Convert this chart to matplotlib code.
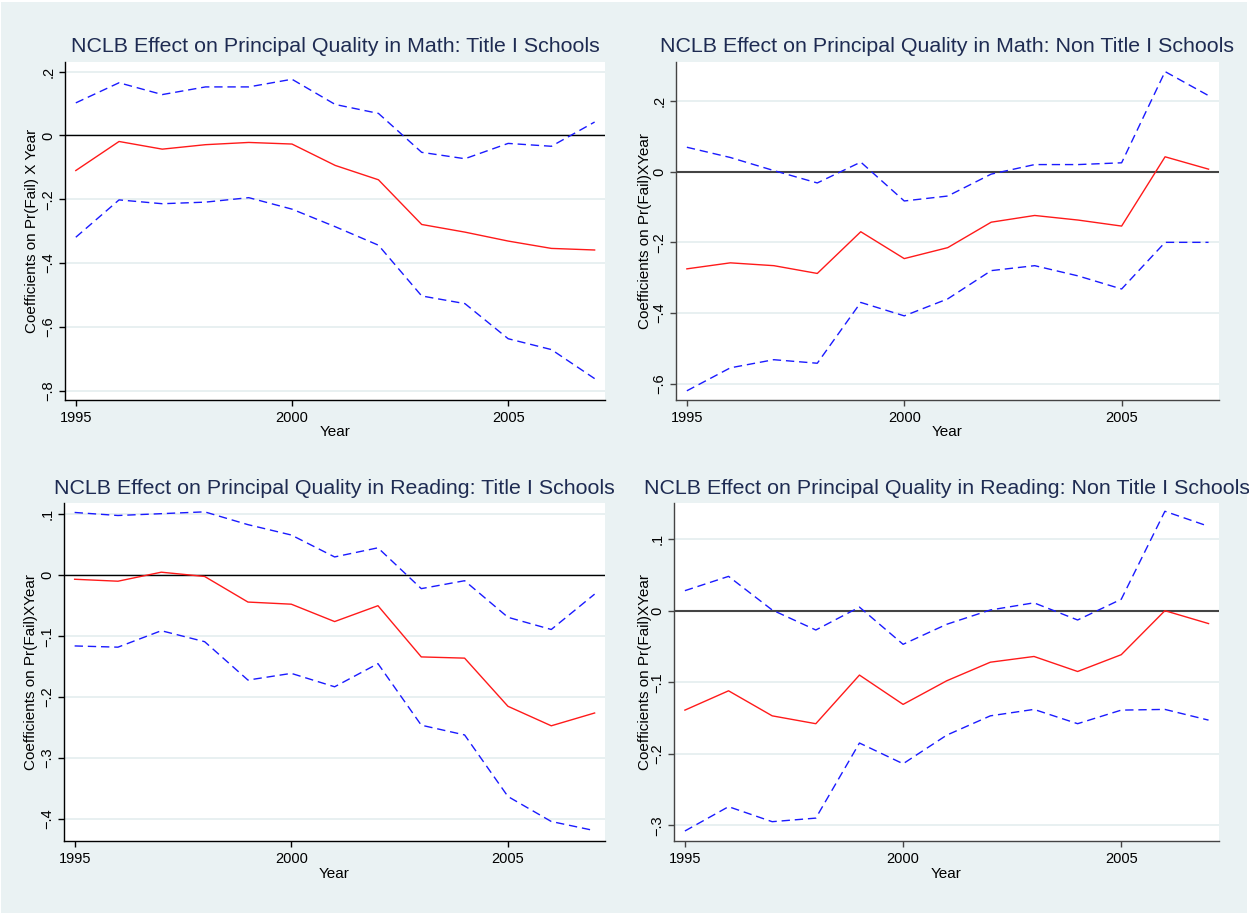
import matplotlib
matplotlib.use("Agg")
import matplotlib.pyplot as plt
from matplotlib.patches import Rectangle
from matplotlib.ticker import FuncFormatter

plt.rcParams['font.family'] = ['Liberation Sans', 'DejaVu Sans']

years = [1995, 1996, 1997, 1998, 1999, 2000, 2001, 2002, 2003, 2004, 2005, 2006, 2007]
year_ticks = [1995, 2000, 2005]

# Math, Title I schools: coefficient and confidence bounds
math_t1_coef = [-0.110, -0.019, -0.043, -0.029, -0.022, -0.027, -0.094, -0.139, -0.279, -0.303, -0.331, -0.354, -0.359]
math_t1_hi = [0.102, 0.165, 0.128, 0.152, 0.152, 0.176, 0.097, 0.069, -0.053, -0.073, -0.025, -0.034, 0.042]
math_t1_lo = [-0.319, -0.202, -0.214, -0.209, -0.195, -0.231, -0.286, -0.344, -0.503, -0.527, -0.637, -0.671, -0.762]

# Math, Non Title I schools
math_nt1_coef = [-0.275, -0.258, -0.266, -0.288, -0.170, -0.246, -0.215, -0.143, -0.124, -0.137, -0.154, 0.042, 0.007]
math_nt1_hi = [0.069, 0.040, 0.003, -0.032, 0.027, -0.083, -0.069, -0.007, 0.020, 0.020, 0.025, 0.283, 0.215]
math_nt1_lo = [-0.620, -0.555, -0.532, -0.542, -0.370, -0.408, -0.360, -0.280, -0.266, -0.295, -0.332, -0.200, -0.200]

# Reading, Title I schools
read_t1_coef = [-0.0066, -0.0098, 0.005, -0.002, -0.044, -0.0475, -0.076, -0.050, -0.134, -0.136, -0.215, -0.247, -0.226]
read_t1_hi = [0.103, 0.098, 0.101, 0.104, 0.083, 0.066, 0.030, 0.045, -0.022, -0.009, -0.069, -0.089, -0.031]
read_t1_lo = [-0.116, -0.118, -0.091, -0.109, -0.172, -0.161, -0.183, -0.145, -0.246, -0.262, -0.363, -0.404, -0.419]

# Reading, Non Title I schools
read_nt1_coef = [-0.139, -0.112, -0.147, -0.158, -0.090, -0.131, -0.098, -0.072, -0.064, -0.085, -0.0615, 0.0, -0.018]
read_nt1_hi = [0.028, 0.048, 0.001, -0.027, 0.005, -0.047, -0.019, 0.001, 0.011, -0.013, 0.016, 0.139, 0.118]
read_nt1_lo = [-0.308, -0.274, -0.295, -0.290, -0.185, -0.214, -0.174, -0.147, -0.138, -0.158, -0.139, -0.138, -0.153]

titles = [
    'NCLB Effect on Principal Quality in Math: Title I Schools',
    'NCLB Effect on Principal Quality in Math: Non Title I Schools',
    'NCLB Effect on Principal Quality in Reading: Title I Schools',
    'NCLB Effect on Principal Quality in Reading: Non Title I Schools',
]
ylabels = [
    'Coefficients on Pr(Fail) X Year',
    'Coefficients on Pr(Fail)XYear',
    'Coefficients on Pr(Fail)XYear',
    'Coefficients on Pr(Fail)XYear',
]
yticks = [
    [0.2, 0, -0.2, -0.4, -0.6, -0.8],
    [0.2, 0, -0.2, -0.4, -0.6],
    [0.1, 0, -0.1, -0.2, -0.3, -0.4],
    [0.1, 0, -0.1, -0.2, -0.3],
]
ylims = [(-0.829, 0.231), (-0.646, 0.311), (-0.436, 0.119), (-0.322, 0.151)]
series = [
    (math_t1_coef, math_t1_hi, math_t1_lo),
    (math_nt1_coef, math_nt1_hi, math_nt1_lo),
    (read_t1_coef, read_t1_hi, read_t1_lo),
    (read_nt1_coef, read_nt1_hi, read_nt1_lo),
]

W, H = 1249, 915
# plot boxes in pixels: left, right, top, bottom
boxes = [(65, 605, 61.7, 400), (676, 1219, 61.7, 400),
         (63.8, 605, 502.7, 841), (674, 1219, 502.7, 841)]
ylabel_x = [32, 645, 31.5, 645]
title_base = [52.5, 52.5, 494, 494]
zero_style = [('black', 1.0), ('#444444', 1.5), ('black', 1.0), ('#444444', 1.5)]

bg = '#eaf2f3'
title_color = '#1e2b52'


def stata_fmt(v, pos):
    if abs(v) < 1e-9:
        return '0'
    s = ('%g' % abs(v)).lstrip('0')
    return ('\u2212' + s) if v < 0 else s


fig = plt.figure(figsize=(W / 100, H / 100), dpi=100, facecolor='white')
fig.patches.append(Rectangle((1 / W, 2 / H), 1246 / W, 911 / H, transform=fig.transFigure,
                             facecolor=bg, edgecolor='none', zorder=-10))

for i in range(4):
    l, r, t, b = boxes[i]
    ax = fig.add_axes([l / W, 1 - b / H, (r - l) / W, (b - t) / H])
    ax.set_facecolor('white')
    coef, hi, lo = series[i]

    ax.plot(years, hi, color='#1a1aff', lw=1.0, linestyle=(0, (6, 3.5)), zorder=3)
    ax.plot(years, lo, color='#1a1aff', lw=1.0, linestyle=(0, (6, 3.5)), zorder=3)
    ax.plot(years, coef, color='#ff1a1a', lw=1.0, zorder=4)
    zc, zw = zero_style[i]
    ax.axhline(0, color=zc, lw=zw, zorder=2)

    ax.set_xlim(1994.75, 2007.24)
    ax.set_ylim(*ylims[i])
    ax.set_xticks(year_ticks)
    ax.set_yticks(yticks[i])
    ax.yaxis.set_major_formatter(FuncFormatter(stata_fmt))
    ax.grid(axis='y', color='#e4edef', lw=1.2, zorder=1)
    ax.set_axisbelow(True)

    for side in ['top', 'right']:
        ax.spines[side].set_visible(False)
    for side in ['left', 'bottom']:
        ax.spines[side].set_color(zc)
        ax.spines[side].set_linewidth(1.0)
    ax.tick_params(axis='both', colors=zc, labelcolor='black', length=4.3, width=1.0, labelsize=10.5)
    ax.tick_params(axis='x', pad=3.5)
    ax.tick_params(axis='y', pad=2.5, labelrotation=90)
    for lab in ax.get_yticklabels():
        lab.set_verticalalignment('center')

    ax.set_xlabel('Year', fontsize=11, va='top')
    ax.xaxis.set_label_coords(0.5, -25.5 / (b - t))
    ax.set_ylabel(ylabels[i], fontsize=11, va='center')
    ax.yaxis.set_label_coords((ylabel_x[i] - l) / (r - l), 0.5)

    fig.text((l + r) / 2 / W, 1 - title_base[i] / H, titles[i], ha='center', va='baseline',
             fontsize=15.4, color=title_color)

fig.savefig('out.png', dpi=100, facecolor=fig.get_facecolor())
